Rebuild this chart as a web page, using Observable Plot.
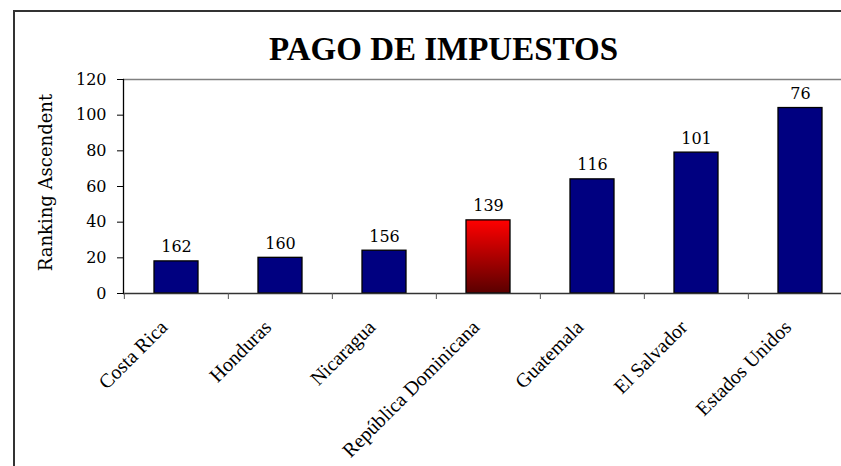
<!DOCTYPE html>
<html><head><meta charset="utf-8">
<script src="https://cdn.jsdelivr.net/npm/d3@7"></script>
<script src="https://cdn.jsdelivr.net/npm/@observablehq/plot@0.6"></script>
<style>
html,body{margin:0;padding:0;background:#fff;overflow:hidden;width:841px;height:466px;position:relative;}
#frame{position:absolute;left:13px;top:10px;width:900px;height:500px;border:2px solid #333;box-sizing:border-box;}
#title{position:absolute;left:0;width:887px;top:33px;line-height:33px;text-align:center;font-family:"Liberation Serif",serif;font-weight:bold;font-size:33px;color:#000;}
#chart{position:absolute;left:0;top:0;}
</style></head>
<body>
<div id="frame"></div>
<div id="title"></div>
<div id="chart"></div>
<script>
const titleText = "PAGO DE IMPUESTOS";
const yLabel = "Ranking Ascendent";
const countries = ["Costa Rica", "Honduras", "Nicaragua", "República Dominicana", "Guatemala", "El Salvador", "Estados Unidos"];
const barValues = [18, 20, 24, 41, 64, 79, 104];
const rankLabels = [162, 160, 156, 139, 116, 101, 76];
const highlighted = "República Dominicana";
const yTicks = [0, 20, 40, 60, 80, 100, 120];

document.getElementById("title").textContent = titleText;

const data = countries.map((c, i) => ({country: c, value: barValues[i], rank: rankLabels[i]}));
const xRange = [123, 853];
const step = (xRange[1] - xRange[0]) / countries.length;

const plot = Plot.plot({
  width: 841, height: 466,
  marginLeft: 123, marginRight: 0, marginTop: 79, marginBottom: 173,
  style: {background: "transparent", fontFamily: "DejaVu Serif", fontSize: "16px", color: "#000"},
  x: {domain: countries, range: xRange, paddingInner: 0.58, paddingOuter: 0.29},
  y: {domain: [0, 120]},
  color: {type: "identity"},
  marks: [
    Plot.ruleY([120], {stroke: "#808080", strokeWidth: 1.5}),
    Plot.barY(data, {x: "country", y: "value",
      fill: d => d.country === highlighted ? "url(#rdGrad)" : "#000080",
      stroke: "#000", strokeWidth: 1.3}),
    Plot.ruleY([0], {stroke: "#333", strokeWidth: 1.3}),
    Plot.frame({anchor: "left", stroke: "#000", strokeWidth: 1.3}),
    Plot.axisY({ticks: yTicks, tickSize: 6, tickPadding: 11, label: null, stroke: "#000", fontSize: 16, fontFamily: "DejaVu Serif"}),
    Plot.axisX({tickSize: 6, tickFormat: () => "", label: null, dx: -step / 2, stroke: "#555"}),
    Plot.text(data, {x: "country", y: "value", text: d => String(d.rank), lineAnchor: "bottom", dy: -9, fontSize: 16, fontFamily: "DejaVu Serif", fill: "#000"}),
    Plot.text(countries, {x: d => d, text: d => d, frameAnchor: "bottom", rotate: -45, textAnchor: "end", lineAnchor: "bottom", dx: -8, dy: 35, fontSize: 20, fontFamily: "Liberation Serif", fill: "#000"}),
    Plot.text([yLabel], {text: d => d, frameAnchor: "left", rotate: -90, textAnchor: "middle", lineAnchor: "middle", dx: -77, dy: -4, fontSize: 18, fontFamily: "DejaVu Serif", fill: "#000"})
  ]
});

const svg = d3.select(plot);
const defs = svg.insert("defs", ":first-child");
const grad = defs.append("linearGradient").attr("id", "rdGrad").attr("x1", 0).attr("y1", 0).attr("x2", 0).attr("y2", 1);
grad.append("stop").attr("offset", "0%").attr("stop-color", "#ff0000");
grad.append("stop").attr("offset", "100%").attr("stop-color", "#5a0000");

document.getElementById("chart").appendChild(plot);
</script>
</body></html>
